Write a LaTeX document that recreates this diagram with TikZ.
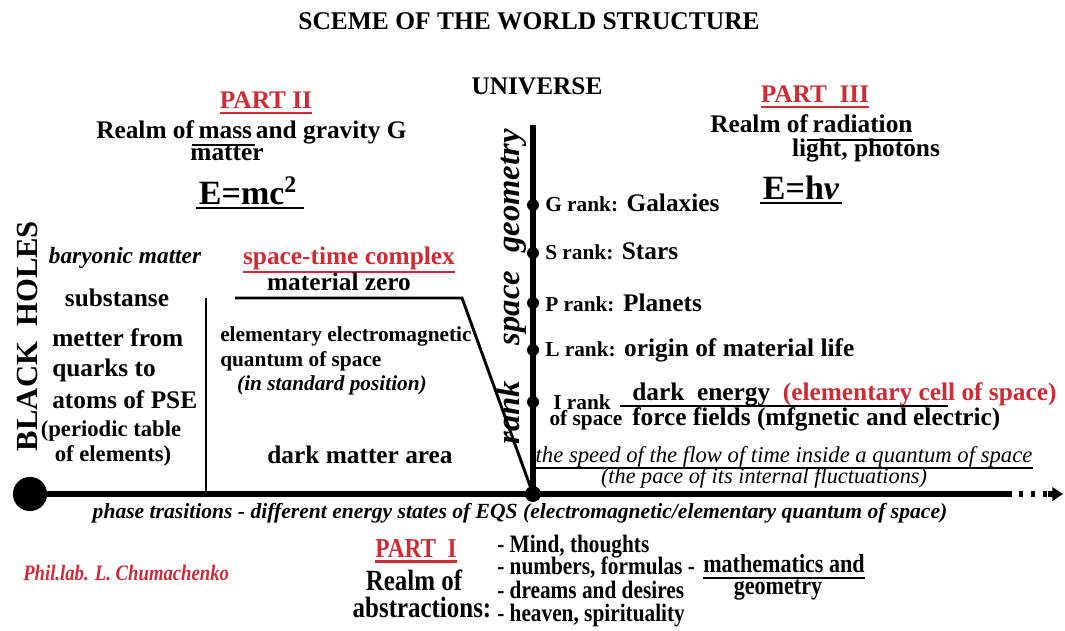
\documentclass[tikz,border=0pt]{standalone}
\usepackage{fontspec}
\setmainfont{Liberation Serif}
\newfontfamily\narrowfont{Liberation Serif}[FakeStretch=0.85]
\usetikzlibrary{positioning,arrows.meta}
\definecolor{partred}{RGB}{208,42,52}
\tikzset{
  lbl/.style={font=\bfseries\fontsize{19}{22}\selectfont, inner sep=0pt},
  smalllbl/.style={font=\bfseries\fontsize{16}{18}\selectfont, inner sep=0pt},
  eqn/.style={font=\bfseries\fontsize{25.5}{28}\selectfont, inner sep=0pt},
  parttitle/.style={lbl, text=partred},
  narrowlbl/.style={font=\narrowfont\bfseries\fontsize{18.8}{22}\selectfont, inner sep=0pt},
  axis/.style={line width=3.8pt},
  wall/.style={line width=2.2pt},
  uline/.style={line width=1.6pt},
  redline/.style={uline, partred},
  rankdot/.style={circle, fill, inner sep=0pt, minimum width=7.5pt, minimum height=9pt},
}
\begin{document}
\begin{tikzpicture}[x=0.75pt,y=-0.75pt]
\useasboundingbox (0,0) rectangle (1065,631);

% axes
\coordinate (bh) at (30,494);
\coordinate (origin) at (533,494);
\coordinate (top) at (533,125);
\coordinate (axend) at (1012,494);
\coordinate (dotsend) at (1048,494);
\coordinate (tip) at (1063,494);
\draw[axis] (bh) -- (axend);
\draw[axis, dash pattern=on 3pt off 6pt, dash phase=-5pt] (axend) -- (dotsend);
\draw[axis, -{Triangle[length=8pt,width=10pt]}] (dotsend) -- (tip);
\draw[axis] (origin) -- (top);
\fill (bh) circle (12.8pt);
\fill (origin) circle (6pt);

% title
\node[font=\bfseries\fontsize{19.1}{21}\selectfont, inner sep=0pt, anchor=base] (title) at (529,30) {SCEME OF THE WORLD STRUCTURE};
\node[font=\bfseries\fontsize{19}{21}\selectfont, inner sep=0pt, anchor=base] (universe) at (537,95) {UNIVERSE};
\node[font=\bfseries\itshape\fontsize{24.5}{26}\selectfont, rotate=90] (rsg) at (512,287) {rank\hspace{1.1em}space\hspace{0.55em}geometry};
\node[font=\bfseries\fontsize{23}{25}\selectfont, rotate=90] (blackholes) at (27,336) {BLACK\ \ HOLES};

% part II
\node[parttitle, anchor=base] (part2) at (266,109) {PART II};
\draw[redline] ([yshift=-3pt]part2.south west) -- ([yshift=-3pt]part2.south east);
\node[lbl, anchor=base west] (realm2) at (96,139) {Realm of};
\node[lbl, base right=0.3em of realm2] (mass) {mass};
\node[lbl, base right=0.25em of mass] (gravity) {and gravity G};
\coordinate (massL) at ([xshift=-5pt,yshift=-4pt]mass.south west);
\coordinate (massR) at ([xshift=2pt,yshift=-4pt]mass.south east);
\draw[uline] (massL) -- (massR);
\node[lbl, anchor=base] (matter) at (227,161) {matter};
\node[eqn, anchor=base] (emc) at (248,205) {E=mc\textsuperscript{2}};
\draw[uline] ([xshift=-2pt,yshift=-2pt]emc.south west) -- ([xshift=5pt,yshift=-2pt]emc.south east);

% part III
\node[parttitle, anchor=base] (part3) at (815,103) {PART\ \ III};
\draw[redline] ([yshift=-3pt]part3.south west) -- ([yshift=-3pt]part3.south east);
\node[lbl, anchor=base west] (realm3) at (710,133) {Realm of};
\node[lbl, base right=0.3em of realm3] (radiation) {radiation};
\draw[uline] ([xshift=-4pt,yshift=-5pt]radiation.south west) -- ([yshift=-5pt]radiation.south east);
\node[lbl, anchor=base] (photons) at (866,157) {light, photons};
\node[eqn, anchor=base] (ehv) at (801,200) {E=h{\itshape ν}};
\draw[uline] ([xshift=-2pt,yshift=-2pt]ehv.south west) -- ([xshift=2pt,yshift=-2pt]ehv.south east);

% ranks
\foreach \y/\nm in {205/g,253/s,303/p,350/l,402/i}
  \node[rankdot] (dot\nm) at (533,\y) {};
\node[lbl, anchor=base west] (rankg) at (545,212) {{\fontsize{16}{18}\selectfont G rank:} Galaxies};
\node[lbl, anchor=base west] (ranks) at (545,260) {{\fontsize{16}{18}\selectfont S rank:} Stars};
\node[lbl, anchor=base west] (rankp) at (545,311) {{\fontsize{16}{18}\selectfont P rank:} Planets};
\node[lbl, anchor=base west] (rankl) at (545,357) {{\fontsize{16}{18}\selectfont L rank:} origin of material life};
\node[smalllbl, anchor=base] (ranki) at (582,409) {I rank};
\node[smalllbl, anchor=base] (ofspace) at (586,425) {of space};
\node[lbl, anchor=base west] (darkE) at (632,400) {dark\ \ energy\ \ \textcolor{partred}{(elementary cell of space)}};
\coordinate (fracL) at (620,406);
\coordinate (fracR) at (948,406);
\draw[uline] (fracL) -- (fracR);
\node[lbl, anchor=base west] (forces) at (632,425) {force fields (mfgnetic and electric)};
\node[font=\itshape\fontsize{17}{19}\selectfont, inner sep=0pt, anchor=base] (speed) at (784,462) {the speed of the flow of time inside a quantum of space};
\draw[uline] ([yshift=-1pt]speed.south west) -- ([yshift=-1pt]speed.south east);
\node[font=\itshape\fontsize{16.7}{19}\selectfont, inner sep=0pt, anchor=base] (pace) at (764,483) {(the pace of its internal fluctuations)};

% left part
\node[font=\bfseries\itshape\fontsize{17.5}{20}\selectfont, inner sep=0pt, anchor=base] (baryon) at (125,264) {baryonic matter};
\node[lbl, anchor=base] (substanse) at (117,306) {substanse};
\node[lbl, anchor=base west] (metter) at (52,346) {metter from};
\node[lbl, anchor=base west] (quarks) at (52,377) {quarks to};
\node[lbl, anchor=base west] (atoms) at (52,408) {atoms of PSE};
\node[smalllbl, font=\bfseries\fontsize{17}{19}\selectfont, anchor=base] (periodic) at (111,436) {(periodic table};
\node[smalllbl, font=\bfseries\fontsize{17}{19}\selectfont, anchor=base] (elements) at (113,461) {of elements)};
\coordinate (wallbot) at (206,494);
\coordinate (walltop) at (206,298);
\draw[wall] (walltop) -- (wallbot);
\node[parttitle, anchor=base] (stc) at (349,265) {space-time complex};
\draw[redline] ([yshift=-1pt]stc.south west) -- ([yshift=-1pt]stc.south east);
\node[lbl, anchor=base] (zero) at (339,291) {material zero};
\coordinate (zeroL) at (235,298);
\coordinate (zeroR) at (462,298);
\draw[wall] (zeroL) -- (zeroR) -- (origin);
\node[smalllbl, font=\bfseries\fontsize{16}{18}\selectfont, anchor=base west] (eqsa) at (220,341) {elementary electromagnetic};
\node[smalllbl, font=\bfseries\fontsize{16}{18}\selectfont, anchor=base west] (eqsb) at (220,366) {quantum of space};
\node[font=\bfseries\itshape\fontsize{16}{18}\selectfont, inner sep=0pt, anchor=base] (stdpos) at (332,390) {(in standard position)};
\node[lbl, anchor=base] (dark) at (360,463) {dark matter area};
\node[font=\bfseries\itshape\fontsize{16.2}{18}\selectfont, inner sep=0pt, anchor=base] (phase) at (520,518) {phase trasitions - different energy states of EQS (electromagnetic/elementary quantum of space)};

% part I
\node[narrowlbl, font=\narrowfont\bfseries\fontsize{20.5}{22}\selectfont, text=partred, anchor=base] (part1) at (416,557) {PART\ \ I};
\draw[redline, line width=2.2pt] ([yshift=-3.5pt]part1.south west) -- ([yshift=-3.5pt]part1.south east);
\node[narrowlbl, font=\narrowfont\bfseries\fontsize{22}{24}\selectfont, anchor=base] (realm1) at (414,590) {Realm of};
\node[narrowlbl, font=\narrowfont\bfseries\fontsize{22}{24}\selectfont, anchor=base] (abstr) at (422,617) {abstractions:};
\node[narrowlbl, anchor=base west] (mind) at (497,552) {- Mind, thoughts};
\node[narrowlbl, anchor=base west] (numbers) at (497,574) {- numbers, formulas -};
\node[narrowlbl, anchor=base west] (dreams) at (497,598) {- dreams and desires};
\node[narrowlbl, anchor=base west] (heaven) at (497,621) {- heaven, spirituality};
\node[narrowlbl, font=\narrowfont\bfseries\fontsize{19.5}{22}\selectfont, anchor=base] (math) at (784,572) {mathematics and};
\draw[uline] ([yshift=-4pt]math.south west) -- ([yshift=-4pt]math.south east);
\node[narrowlbl, font=\narrowfont\bfseries\fontsize{19.5}{22}\selectfont, anchor=base] (geom) at (778,594) {geometry};
\node[font=\narrowfont\bfseries\itshape\fontsize{16.5}{18}\selectfont, text=partred, inner sep=0pt, anchor=base west] (author) at (23,580) {Phil.lab. L. Chumachenko};
\end{tikzpicture}
\end{document}
